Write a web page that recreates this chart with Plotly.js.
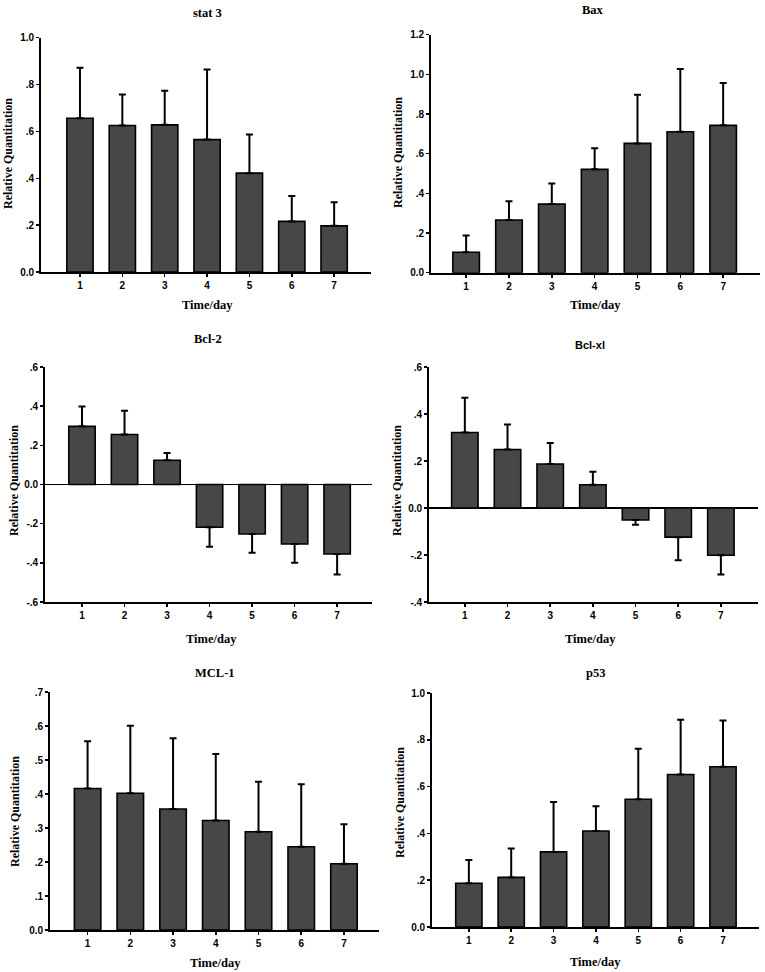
<!DOCTYPE html>
<html>
<head>
<meta charset="utf-8">
<script src="https://cdn.plot.ly/plotly-3.0.1.min.js"></script>
<style>html,body{margin:0;padding:0;background:#fff;}#chart{width:765px;height:972px;}</style>
</head>
<body>
<div id="chart"></div>
<script>
// ---- Data ----
const days = [1, 2, 3, 4, 5, 6, 7];
const dayLabels = ["1", "2", "3", "4", "5", "6", "7"];

const panelNames = ["stat 3", "Bax", "Bcl-2", "Bcl-xl", "MCL-1", "p53"];

const stat3Mean = [0.656, 0.625, 0.628, 0.565, 0.422, 0.216, 0.197];
const stat3Err  = [0.216, 0.133, 0.146, 0.299, 0.165, 0.108, 0.101];

const baxMean = [0.103, 0.266, 0.346, 0.521, 0.652, 0.711, 0.743];
const baxErr  = [0.084, 0.094, 0.104, 0.106, 0.245, 0.316, 0.213];

const bcl2Mean = [0.297, 0.255, 0.124, -0.218, -0.253, -0.304, -0.355];
const bcl2Err  = [0.101, 0.122, 0.037, 0.100, 0.095, 0.096, 0.104];

const bclxlMean = [0.321, 0.249, 0.187, 0.099, -0.051, -0.124, -0.201];
const bclxlErr  = [0.148, 0.106, 0.090, 0.055, 0.020, 0.098, 0.082];

const mcl1Mean = [0.416, 0.402, 0.356, 0.322, 0.289, 0.245, 0.195];
const mcl1Err  = [0.139, 0.199, 0.208, 0.196, 0.147, 0.184, 0.116];

const p53Mean = [0.187, 0.212, 0.321, 0.410, 0.546, 0.652, 0.685];
const p53Err  = [0.099, 0.124, 0.213, 0.106, 0.216, 0.234, 0.198];

const tickVals0to1  = [0, 0.2, 0.4, 0.6, 0.8, 1.0];
const tickText0to1  = ["0.0", ".2", ".4", ".6", ".8", "1.0"];
const tickVals0to12 = [0, 0.2, 0.4, 0.6, 0.8, 1.0, 1.2];
const tickText0to12 = ["0.0", ".2", ".4", ".6", ".8", "1.0", "1.2"];
const tickValsBcl2  = [-0.6, -0.4, -0.2, 0, 0.2, 0.4, 0.6];
const tickTextBcl2  = ["-.6", "-.4", "-.2", "0.0", ".2", ".4", ".6"];
const tickValsBclxl = [-0.4, -0.2, 0, 0.2, 0.4, 0.6];
const tickTextBclxl = ["-.4", "-.2", "0.0", ".2", ".4", ".6"];
const tickValsMcl1  = [0, 0.1, 0.2, 0.3, 0.4, 0.5, 0.6, 0.7];
const tickTextMcl1  = ["0.0", ".1", ".2", ".3", ".4", ".5", ".6", ".7"];

const xTitle = "Time/day";
const yTitle = "Relative Quantitation";

// ---- Layout geometry (pixels) ----
const W = 765, H = 972;
const panels = [
  {mean: stat3Mean, err: stat3Err, tv: tickVals0to1, tt: tickText0to1, yr: [0, 1.0],
   px: [41, 371], py: [37.7, 272], xr: [0.08, 7.87],
   title: [208, 13], xt: [207, 305], yt: [8, 154], titleFont: "serif"},
  {mean: baxMean, err: baxErr, tv: tickVals0to12, tt: tickText0to12, yr: [0, 1.2],
   px: [431, 760], py: [34.7, 272.7], xr: [0.18, 7.86],
   title: [593, 10], xt: [595, 305], yt: [398, 153], titleFont: "serif"},
  {mean: bcl2Mean, err: bcl2Err, tv: tickValsBcl2, tt: tickTextBcl2, yr: [-0.6, 0.6],
   px: [45, 372], py: [367, 602], xr: [0.13, 7.82],
   title: [208, 339], xt: [211, 639], yt: [14, 481], titleFont: "serif"},
  {mean: bclxlMean, err: bclxlErr, tv: tickValsBclxl, tt: tickTextBclxl, yr: [-0.4, 0.6],
   px: [429, 758], py: [367, 602], xr: [0.16, 7.87],
   title: [590, 345], xt: [590, 639], yt: [397, 481], titleFont: "sans"},
  {mean: mcl1Mean, err: mcl1Err, tv: tickValsMcl1, tt: tickTextMcl1, yr: [0, 0.7],
   px: [50, 379], py: [692, 930], xr: [0.12, 7.82],
   title: [215, 673], xt: [215, 963], yt: [15, 812], titleFont: "serif"},
  {mean: p53Mean, err: p53Err, tv: tickVals0to1, tt: tickText0to1, yr: [0, 1.0],
   px: [432, 759], py: [693, 927], xr: [0.13, 7.85],
   title: [595, 673], xt: [595, 962], yt: [400, 803], titleFont: "serif"}
];

const serif = "Liberation Serif, Times New Roman, serif";
const sans = "Liberation Sans, Arial, sans-serif";

const data = [];
const layout = {
  width: W, height: H,
  margin: {l: 0, r: 0, t: 0, b: 0},
  paper_bgcolor: "#ffffff", plot_bgcolor: "rgba(0,0,0,0)",
  showlegend: false,
  bargap: 0.38,
  annotations: []
};

panels.forEach((p, i) => {
  const n = i + 1;
  const xa = n === 1 ? "x" : "x" + n;
  const ya = n === 1 ? "y" : "y" + n;
  const up = p.mean.map((m, k) => m >= 0 ? p.err[k] : 0);
  const down = p.mean.map((m, k) => m < 0 ? p.err[k] : 0);
  data.push({
    type: "bar", x: days, y: p.mean, xaxis: xa, yaxis: ya,
    marker: {color: "#474747", line: {color: "#000000", width: 1.6}},
    error_y: {type: "data", symmetric: false, array: up, arrayminus: down,
              color: "#000000", thickness: 2, width: 3.5},
    hoverinfo: "none"
  });
  const axKeyX = n === 1 ? "xaxis" : "xaxis" + n;
  const axKeyY = n === 1 ? "yaxis" : "yaxis" + n;
  layout[axKeyX] = {
    domain: [p.px[0] / W, p.px[1] / W],
    anchor: ya, range: p.xr, showgrid: false, zeroline: false,
    showline: true, linecolor: "#000", linewidth: 1.8,
    ticks: "outside", ticklen: 3, tickwidth: 1.5, tickcolor: "#000",
    tickmode: "array", tickvals: days, ticktext: dayLabels,
    tickfont: {family: sans, size: 10, color: "#000", weight: "bold"},
    fixedrange: true
  };
  layout[axKeyY] = {
    domain: [1 - p.py[1] / H, 1 - p.py[0] / H],
    anchor: xa, range: p.yr, showgrid: false,
    zeroline: p.yr[0] < 0, zerolinecolor: "#000", zerolinewidth: 1.8,
    showline: true, linecolor: "#000", linewidth: 1.8,
    ticks: "outside", ticklen: 3, tickwidth: 1.5, tickcolor: "#000",
    tickmode: "array", tickvals: p.tv, ticktext: p.tt,
    tickfont: {family: sans, size: 10, color: "#000", weight: "bold"},
    fixedrange: true
  };
  layout.annotations.push({
    text: panelNames[i], xref: "paper", yref: "paper",
    x: p.title[0] / W, y: 1 - p.title[1] / H, xanchor: "center", yanchor: "middle",
    showarrow: false,
    font: {family: p.titleFont === "sans" ? sans : serif, size: p.titleFont === "sans" ? 11 : 12.5, color: "#000", weight: "bold"}
  });
  layout.annotations.push({
    text: xTitle, xref: "paper", yref: "paper",
    x: p.xt[0] / W, y: 1 - p.xt[1] / H, xanchor: "center", yanchor: "middle",
    showarrow: false, font: {family: serif, size: 12.5, color: "#000", weight: "bold"}
  });
  layout.annotations.push({
    text: yTitle, xref: "paper", yref: "paper",
    x: p.yt[0] / W, y: 1 - p.yt[1] / H, xanchor: "center", yanchor: "middle",
    textangle: -90, showarrow: false,
    font: {family: serif, size: 12, color: "#000", weight: "bold"}
  });
});

Plotly.newPlot("chart", data, layout, {displayModeBar: false, staticPlot: true});
</script>
</body>
</html>
